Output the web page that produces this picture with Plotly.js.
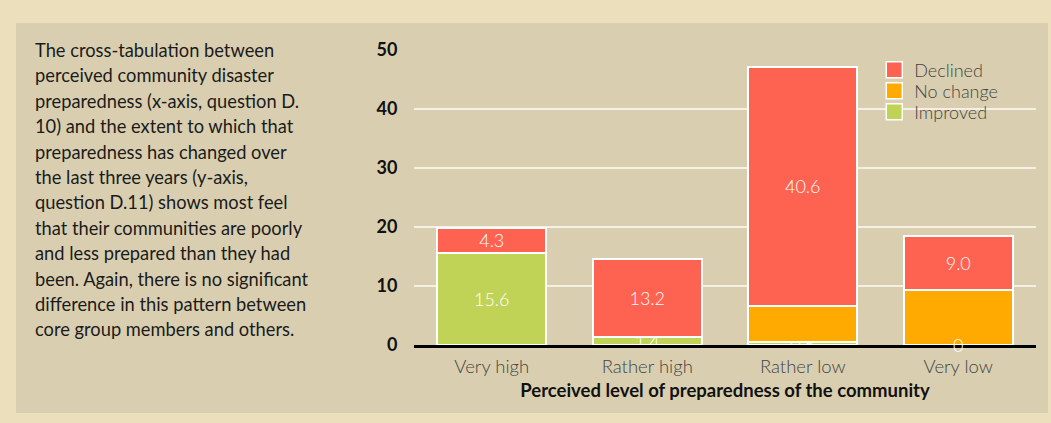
<!DOCTYPE html>
<html>
<head>
<meta charset="utf-8">
<script src="https://cdn.plot.ly/plotly-3.0.1.min.js"></script>
<style>
  html, body { margin: 0; padding: 0; }
  body { width: 1051px; height: 423px; background: #ebdfbc; position: relative; overflow: hidden; }
  #inner { position: absolute; left: 16px; top: 23px; width: 1032px; height: 390px; background: #d9cfb0; }
  #para { position: absolute; left: 35px; top: 38px; width: 300px; font-family: Lato, sans-serif; font-size: 18.3px; line-height: 25.4px; color: #1b1b1b; white-space: nowrap; }
  #chart { position: absolute; left: 0; top: 0; width: 1051px; height: 423px; }
</style>
</head>
<body>
<div id="inner"></div>
<div id="para">The cross-tabulation between<br>perceived community disaster<br>preparedness (x-axis, question D.<br>10) and the extent to which that<br>preparedness has changed over<br>the last three years (y-axis,<br>question D.11) shows most feel<br>that their communities are poorly<br>and less prepared than they had<br>been. Again, there is no significant<br>difference in this pattern between<br>core group members and others.</div>
<div id="chart"></div>
<script>
const categories = ["Very high", "Rather high", "Rather low", "Very low"];
const improved = [15.6, 1.4, 0.5, 0];
const noChange = [0, 0, 6.1, 9.4];
const declined = [4.3, 13.2, 40.6, 9.0];
const improvedLabels = ["15.6", "1.4", "0.5", "0"];
const declinedLabels = ["4.3", "13.2", "40.6", "9.0"];
const yTicks = [0, 10, 20, 30, 40, 50];
const seriesNames = ["Declined", "No change", "Improved"];
const seriesColors = {"Declined": "#fe6251", "No change": "#ffaa00", "Improved": "#c1d356"};

const barText = {family: "Lato, sans-serif", size: 18, color: "#ffffff", weight: 300};
const common = {
  type: "bar", x: categories, showlegend: false,
  textposition: "inside", insidetextanchor: "middle", textangle: 0,
  constraintext: "none", insidetextfont: barText, hoverinfo: "skip"
};

const traces = [
  Object.assign({}, common, {name: "Improved", y: improved, text: improvedLabels,
    marker: {color: seriesColors["Improved"], line: {color: "#ffffff", width: 2}}}),
  Object.assign({}, common, {name: "No change", y: noChange, textposition: "none",
    marker: {color: seriesColors["No change"], line: {color: "#ffffff", width: 2}}}),
  Object.assign({}, common, {name: "Declined", y: declined, text: declinedLabels,
    marker: {color: seriesColors["Declined"], line: {color: "#ffffff", width: 2}}})
];

// legend entries (one legend per series so spacing can match the reference)
const legendIds = ["legend", "legend2", "legend3"];
const legendY = [0.929, 0.858, 0.787];
seriesNames.forEach((nm, i) => {
  traces.push({type: "scatter", mode: "markers", x: [null], y: [null], name: nm,
    legend: legendIds[i], showlegend: true, hoverinfo: "skip",
    marker: {symbol: "square", size: 16, color: seriesColors[nm], line: {color: "#ffffff", width: 1.5}}});
});

const legendStyle = (y) => ({x: 0.74, xanchor: "left", y: y, yanchor: "middle",
  bgcolor: "rgba(0,0,0,0)", itemclick: false,
  font: {family: "Lato, sans-serif", size: 18, color: "#444444", weight: 300}});

// zero-height segments still carry a label in the reference
const zeroAnn = [];
improved.forEach((v, i) => {
  if (v === 0) zeroAnn.push({x: categories[i], y: 0, xref: "x", yref: "y", text: improvedLabels[i],
    showarrow: false, yanchor: "middle", borderpad: 0, font: barText});
});

const layout = {
  width: 1051, height: 423,
  paper_bgcolor: "rgba(0,0,0,0)", plot_bgcolor: "rgba(0,0,0,0)",
  margin: {l: 414, r: 15, t: 49, b: 78},
  barmode: "stack", bargap: 0.3,
  font: {family: "Lato, sans-serif"},
  legend: legendStyle(legendY[0]),
  legend2: legendStyle(legendY[1]),
  legend3: legendStyle(legendY[2]),
  annotations: zeroAnn,
  xaxis: {
    type: "category", showgrid: false, showline: true, linecolor: "#000000", linewidth: 3,
    ticks: "", ticklabelstandoff: 3,
    tickfont: {family: "Lato, sans-serif", size: 18.5, color: "#444444", weight: 300},
    title: {text: "Perceived level of preparedness of the community", standoff: 8,
      font: {family: "Lato, sans-serif", size: 18.5, color: "#111111", weight: 700}}
  },
  yaxis: {
    range: [0, 50.17], tickvals: yTicks, ticktext: yTicks.map(String),
    showgrid: true, gridcolor: "#f4f0e4", gridwidth: 1.5, zeroline: false,
    ticks: "outside", ticklen: 12, tickcolor: "rgba(0,0,0,0)",
    tickfont: {family: "Lato, sans-serif", size: 18, color: "#111111", weight: 700}
  }
};

Plotly.newPlot("chart", traces, layout, {displayModeBar: false, staticPlot: true});
</script>
</body>
</html>
